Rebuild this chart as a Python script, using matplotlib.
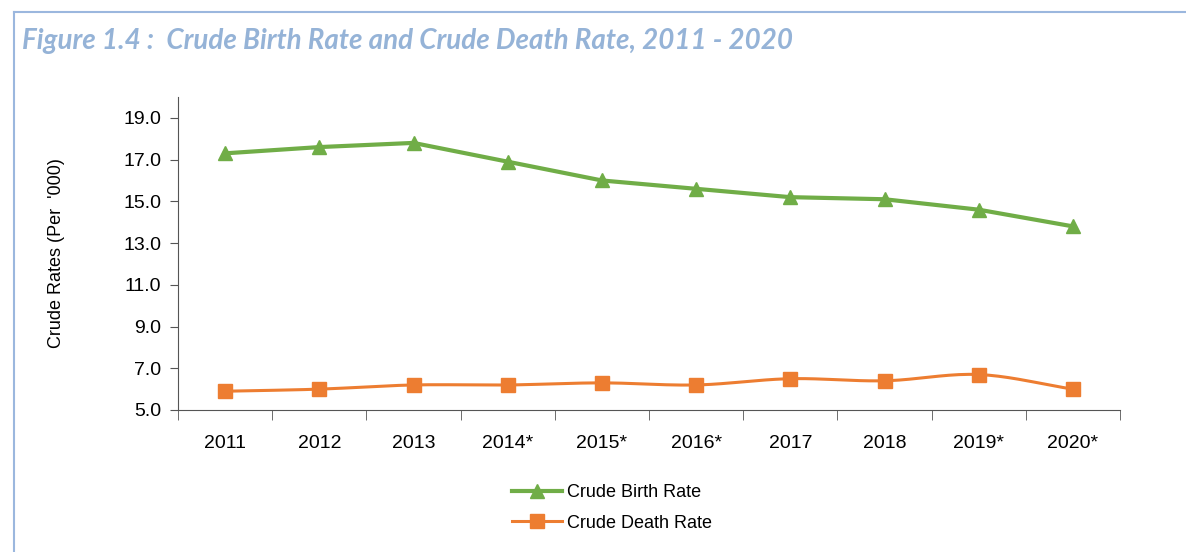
import numpy as np
import matplotlib.pyplot as plt
from matplotlib.lines import Line2D

# data
years = ["2011", "2012", "2013", "2014*", "2015*", "2016*", "2017", "2018", "2019*", "2020*"]
birth_rate = [17.3, 17.6, 17.8, 16.9, 16.0, 15.6, 15.2, 15.1, 14.6, 13.8]
death_rate = [5.9, 6.0, 6.2, 6.2, 6.3, 6.2, 6.5, 6.4, 6.7, 6.0]

green = "#70AD47"
orange = "#ED7D31"


def smooth(x, y, n=20):
    ''' Catmull-Rom curve through the points (drawing only, like Excel smoothed lines) '''
    x = np.asarray(x, float)
    y = np.asarray(y, float)
    px = np.concatenate(([2*x[0]-x[1]], x, [2*x[-1]-x[-2]]))
    py = np.concatenate(([2*y[0]-y[1]], y, [2*y[-1]-y[-2]]))
    t = np.linspace(0, 1, n)
    xs, ys = [], []
    for i in range(1, len(px)-2):
        for p, out in ((px, xs), (py, ys)):
            p0, p1, p2, p3 = p[i-1], p[i], p[i+1], p[i+2]
            out.extend(0.5*((2*p1) + (-p0+p2)*t + (2*p0-5*p1+4*p2-p3)*t**2 + (-p0+3*p1-3*p2+p3)*t**3))
    return np.array(xs), np.array(ys)


plt.rcParams['font.family'] = ['Liberation Sans', 'DejaVu Sans']

fig = plt.figure(figsize=(11.86, 5.52), dpi=100)

# light blue frame around the figure
fig.add_artist(Line2D([14/1186, 14/1186], [0, 1-12/552], color="#9BB7DE", lw=1.5))
fig.add_artist(Line2D([14/1186, 1], [1-12/552, 1-12/552], color="#9BB7DE", lw=1.5))

fig.text(22/1186, 1-41/552, "Figure 1.4 :  Crude Birth Rate and Crude Death Rate, 2011 - 2020",
         color="#95B3D7", fontsize=20, fontweight="bold", style="italic",
         family="Lato", va="center", ha="left")

ax = fig.add_axes([178/1186, 1-410/552, (1120-178)/1186, (410-97)/552])
x = np.arange(len(years))

ax.plot(x, birth_rate, color=green, lw=3, marker="^", markersize=10,
        markerfacecolor=green, markeredgecolor=green, label="Crude Birth Rate", zorder=3)
sx, sy = smooth(x, death_rate)
ax.plot(sx, sy, color=orange, lw=2.2, zorder=3)
ax.plot(x, death_rate, ls="none", marker="s", markersize=10, color=orange, zorder=4)

ax.set_xlim(-0.5, len(years)-0.5)
ax.set_ylim(5, 20)
ax.set_yticks(np.arange(5, 20, 2))
ax.set_yticklabels([f"{v:.1f}" for v in np.arange(5, 20, 2)], fontsize=14)
ax.set_xticks(x)
ax.set_xticklabels(years, fontsize=14)
ax.tick_params(axis="x", length=0, pad=18)
ax.set_xticks(np.arange(-0.5, len(years)), minor=True)
ax.tick_params(axis="x", which="minor", length=7, color="#555555")
ax.tick_params(axis="y", length=6, color="#555555", pad=6)
for s in ["top", "right"]:
    ax.spines[s].set_visible(False)
for s in ["left", "bottom"]:
    ax.spines[s].set_color("#555555")
ax.set_ylabel("Crude Rates (Per  '000)", fontsize=13, labelpad=42)

handles = [
    Line2D([], [], color=green, lw=3, marker="^", markersize=10, label="Crude Birth Rate"),
    Line2D([], [], color=orange, lw=2.2, marker="s", markersize=10, label="Crude Death Rate"),
]
fig.legend(handles=handles, loc="center", bbox_to_anchor=(612/1186, 1-508/552),
           frameon=False, fontsize=13, handlelength=2.8, labelspacing=0.75, handletextpad=0.3)

fig.savefig("out.png", dpi=100)
